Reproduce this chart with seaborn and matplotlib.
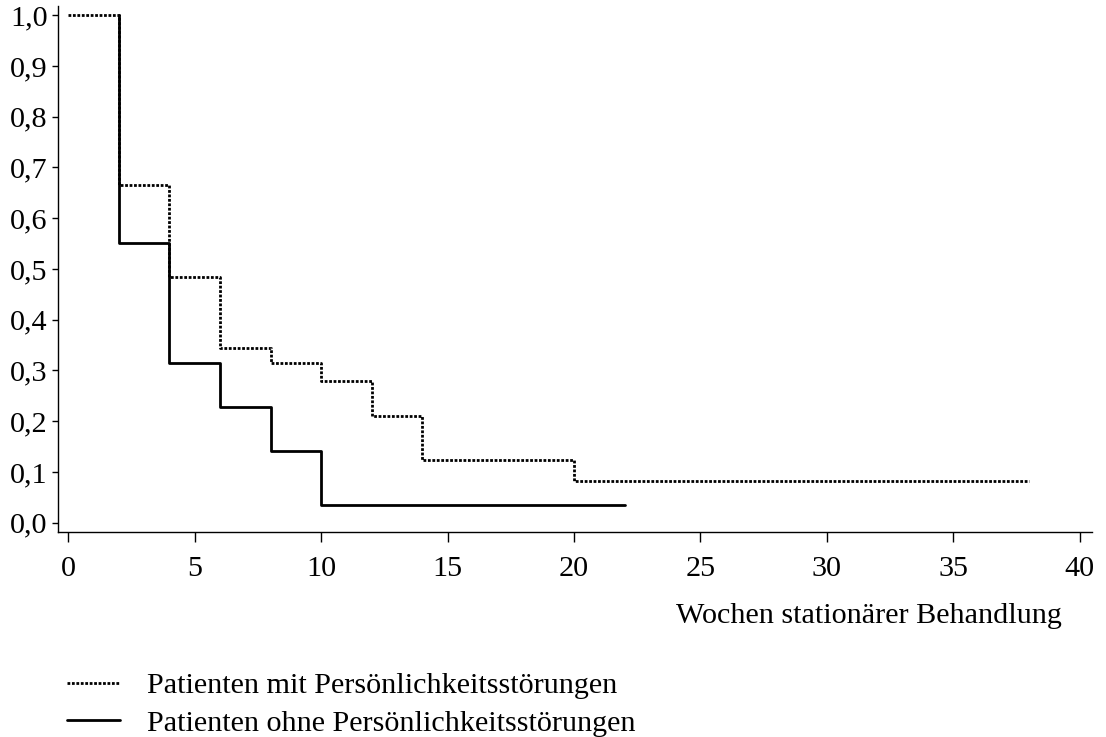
import matplotlib
matplotlib.use("Agg")
import matplotlib.pyplot as plt
import seaborn as sns
import pandas as pd

# --- data ---
weeks_mit = [0, 2, 4, 6, 8, 10, 12, 14, 20, 38]
surv_mit = [1.0, 0.665, 0.485, 0.345, 0.314, 0.280, 0.210, 0.123, 0.083, 0.083]
weeks_ohne = [2, 2, 4, 6, 8, 10, 22]
surv_ohne = [1.0, 0.552, 0.314, 0.228, 0.142, 0.034, 0.034]
label_mit = "Patienten mit Persönlichkeitsstörungen"
label_ohne = "Patienten ohne Persönlichkeitsstörungen"
x_ticks = [0, 5, 10, 15, 20, 25, 30, 35, 40]
y_ticks = [0.0, 0.1, 0.2, 0.3, 0.4, 0.5, 0.6, 0.7, 0.8, 0.9, 1.0]
x_label = "Wochen stationärer Behandlung"

sns.set_theme(style="white")
plt.rcParams["font.family"] = ["Liberation Serif", "DejaVu Serif"]
plt.rcParams["text.color"] = "black"
plt.rcParams["xtick.color"] = "black"
plt.rcParams["ytick.color"] = "black"
FS = 21.7

fig = plt.figure(figsize=(11.06, 7.37), dpi=100)
ax = fig.add_axes([58 / 1106, 1 - 532.3 / 737, (1092 - 58) / 1106, (532.3 - 6) / 737])

df_mit = pd.DataFrame({"w": weeks_mit, "s": surv_mit})
df_ohne = pd.DataFrame({"w": weeks_ohne, "s": surv_ohne})

sns.lineplot(data=df_ohne, x="w", y="s", ax=ax, drawstyle="steps-post",
             color="black", linewidth=2.0, label=label_ohne, estimator=None, sort=False)
sns.lineplot(data=df_mit, x="w", y="s", ax=ax, drawstyle="steps-post",
             color="black", linewidth=2.0, linestyle=(0, (1, 0.6)), label=label_mit,
             estimator=None, sort=False)

ax.set_xlim(-0.41, 40.49)
ax.set_ylim(-0.019, 1.018)
ax.set_xticks(x_ticks)
ax.set_xticklabels([str(v) for v in x_ticks], fontsize=FS)
ax.set_yticks(y_ticks)
ax.set_yticklabels([f"{v:.1f}".replace(".", ",") for v in y_ticks], fontsize=FS)
ax.set_xlabel("")
ax.set_ylabel("")
for s in ["top", "right"]:
    ax.spines[s].set_visible(False)
for s in ["left", "bottom"]:
    ax.spines[s].set_color("black")
    ax.spines[s].set_linewidth(1.0)
ax.tick_params(axis="x", which="major", direction="out", length=7, width=1.0,
               pad=10, bottom=True)
ax.tick_params(axis="y", which="major", direction="out", length=4.5, width=1.0,
               pad=3, left=True)

fig.text(1061.5 / 1106, 1 - 623 / 737, x_label, ha="right", va="baseline", fontsize=FS)

handles, labels = ax.get_legend_handles_labels()
ax.get_legend().remove()
order = [labels.index(label_mit), labels.index(label_ohne)]
fig.legend([handles[i] for i in order], [labels[i] for i in order],
           loc="upper left", bbox_to_anchor=(67 / 1106, 1 - 672 / 737),
           frameon=False, fontsize=FS, handlelength=1.77, handletextpad=0.9,
           labelspacing=0.35, borderaxespad=0, borderpad=0)

fig.savefig("out.png", dpi=100)
